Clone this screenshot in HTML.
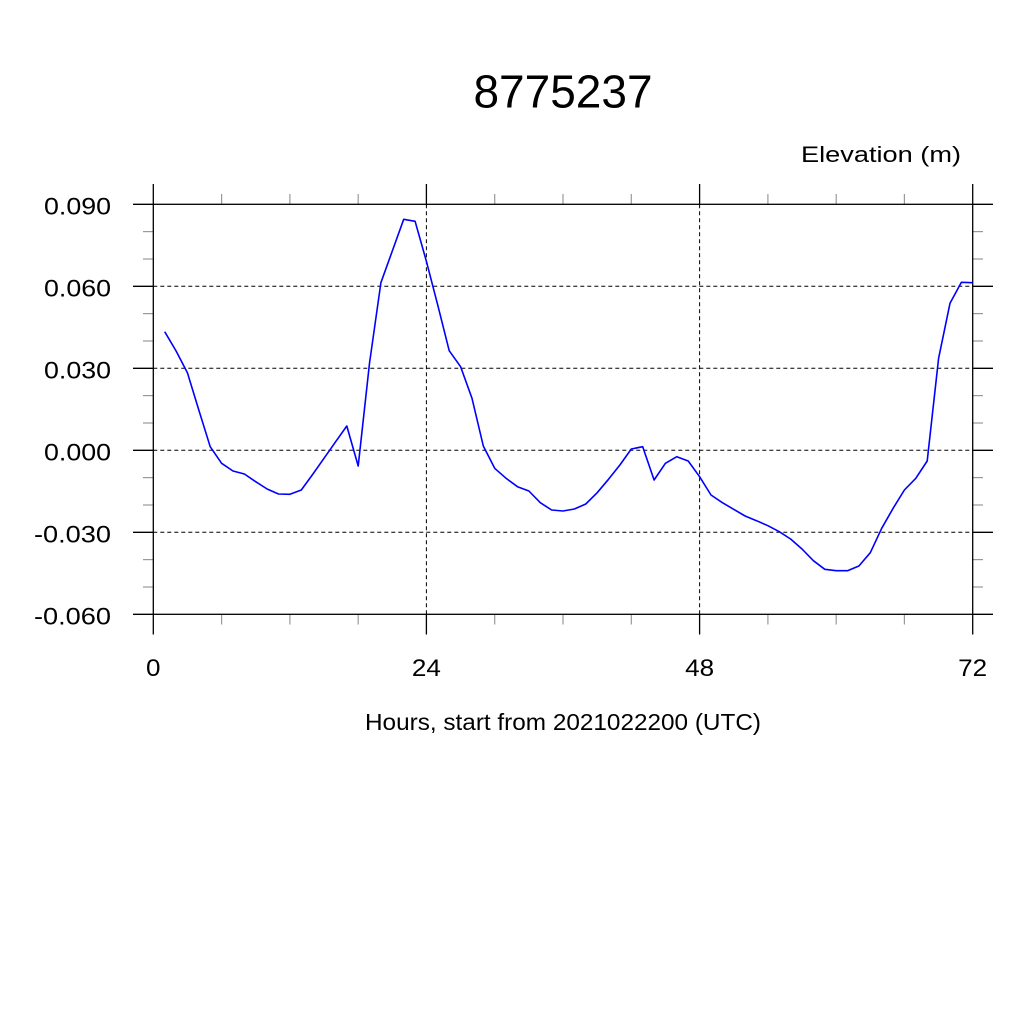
<!DOCTYPE html>
<html>
<head>
<meta charset="utf-8">
<style>
html,body{margin:0;padding:0;background:#fff;}
svg{display:block;}
text{font-family:"Liberation Sans",sans-serif;fill:#000;}
</style>
</head>
<body>
<svg width="1024" height="1024" viewBox="0 0 1024 1024" xmlns="http://www.w3.org/2000/svg">
<rect width="1024" height="1024" fill="#fff"/>

<!-- Title -->
<text x="563" y="107.5" font-size="46" text-anchor="middle">8775237</text>
<text x="961" y="162" font-size="22" text-anchor="end" textLength="160" lengthAdjust="spacingAndGlyphs">Elevation (m)</text>

<!-- gridlines -->
<g stroke="#000" stroke-width="1" stroke-dasharray="4,3" fill="none">
  <line x1="153.3" y1="286.3" x2="972.7" y2="286.3"/>
  <line x1="153.3" y1="368.3" x2="972.7" y2="368.3"/>
  <line x1="153.3" y1="450.3" x2="972.7" y2="450.3"/>
  <line x1="153.3" y1="532.3" x2="972.7" y2="532.3"/>
  <line x1="426.4" y1="204.3" x2="426.4" y2="614.3"/>
  <line x1="699.6" y1="204.3" x2="699.6" y2="614.3"/>
</g>

<!-- minor ticks -->
<g stroke="#999" stroke-width="1.2">
  <line x1="143" y1="231.6" x2="153.3" y2="231.6"/><line x1="972.7" y1="231.6" x2="983" y2="231.6"/>
  <line x1="143" y1="259.0" x2="153.3" y2="259.0"/><line x1="972.7" y1="259.0" x2="983" y2="259.0"/>
  <line x1="143" y1="313.6" x2="153.3" y2="313.6"/><line x1="972.7" y1="313.6" x2="983" y2="313.6"/>
  <line x1="143" y1="341.0" x2="153.3" y2="341.0"/><line x1="972.7" y1="341.0" x2="983" y2="341.0"/>
  <line x1="143" y1="395.6" x2="153.3" y2="395.6"/><line x1="972.7" y1="395.6" x2="983" y2="395.6"/>
  <line x1="143" y1="423.0" x2="153.3" y2="423.0"/><line x1="972.7" y1="423.0" x2="983" y2="423.0"/>
  <line x1="143" y1="477.6" x2="153.3" y2="477.6"/><line x1="972.7" y1="477.6" x2="983" y2="477.6"/>
  <line x1="143" y1="505.0" x2="153.3" y2="505.0"/><line x1="972.7" y1="505.0" x2="983" y2="505.0"/>
  <line x1="143" y1="559.6" x2="153.3" y2="559.6"/><line x1="972.7" y1="559.6" x2="983" y2="559.6"/>
  <line x1="143" y1="587.0" x2="153.3" y2="587.0"/><line x1="972.7" y1="587.0" x2="983" y2="587.0"/>
  <line x1="221.6" y1="194" x2="221.6" y2="204.3"/><line x1="221.6" y1="614.3" x2="221.6" y2="624.5"/>
  <line x1="289.9" y1="194" x2="289.9" y2="204.3"/><line x1="289.9" y1="614.3" x2="289.9" y2="624.5"/>
  <line x1="358.2" y1="194" x2="358.2" y2="204.3"/><line x1="358.2" y1="614.3" x2="358.2" y2="624.5"/>
  <line x1="494.7" y1="194" x2="494.7" y2="204.3"/><line x1="494.7" y1="614.3" x2="494.7" y2="624.5"/>
  <line x1="563.0" y1="194" x2="563.0" y2="204.3"/><line x1="563.0" y1="614.3" x2="563.0" y2="624.5"/>
  <line x1="631.3" y1="194" x2="631.3" y2="204.3"/><line x1="631.3" y1="614.3" x2="631.3" y2="624.5"/>
  <line x1="767.9" y1="194" x2="767.9" y2="204.3"/><line x1="767.9" y1="614.3" x2="767.9" y2="624.5"/>
  <line x1="836.2" y1="194" x2="836.2" y2="204.3"/><line x1="836.2" y1="614.3" x2="836.2" y2="624.5"/>
  <line x1="904.4" y1="194" x2="904.4" y2="204.3"/><line x1="904.4" y1="614.3" x2="904.4" y2="624.5"/>
</g>

<!-- major ticks -->
<g stroke="#000" stroke-width="1.3">
  <line x1="133" y1="204.3" x2="153.3" y2="204.3"/><line x1="972.7" y1="204.3" x2="993" y2="204.3"/>
  <line x1="133" y1="286.3" x2="153.3" y2="286.3"/><line x1="972.7" y1="286.3" x2="993" y2="286.3"/>
  <line x1="133" y1="368.3" x2="153.3" y2="368.3"/><line x1="972.7" y1="368.3" x2="993" y2="368.3"/>
  <line x1="133" y1="450.3" x2="153.3" y2="450.3"/><line x1="972.7" y1="450.3" x2="993" y2="450.3"/>
  <line x1="133" y1="532.3" x2="153.3" y2="532.3"/><line x1="972.7" y1="532.3" x2="993" y2="532.3"/>
  <line x1="133" y1="614.3" x2="153.3" y2="614.3"/><line x1="972.7" y1="614.3" x2="993" y2="614.3"/>
  <line x1="153.3" y1="184" x2="153.3" y2="204.3"/><line x1="153.3" y1="614.3" x2="153.3" y2="634.5"/>
  <line x1="426.4" y1="184" x2="426.4" y2="204.3"/><line x1="426.4" y1="614.3" x2="426.4" y2="634.5"/>
  <line x1="699.6" y1="184" x2="699.6" y2="204.3"/><line x1="699.6" y1="614.3" x2="699.6" y2="634.5"/>
  <line x1="972.7" y1="184" x2="972.7" y2="204.3"/><line x1="972.7" y1="614.3" x2="972.7" y2="634.5"/>
</g>

<!-- frame -->
<rect x="153.3" y="204.3" width="819.4" height="410" fill="none" stroke="#000" stroke-width="1.3"/>

<!-- data -->
<polyline fill="none" stroke="#0000ff" stroke-width="1.6" stroke-linejoin="round" points="
164.7,331.7 176.1,351 187.4,372.7 198.8,410 210.2,446.7 221.6,463.3 233.0,471 244.4,474 255.7,481.7 267.1,489
278.5,494 289.9,494.3 301.3,490 312.6,474.5 324.0,458.3 335.4,442.1 346.8,426 358.2,466 369.5,363.3 380.9,282.7
392.3,251 403.7,219.3 415.1,221.3 426.4,261.3 437.8,305.3 449.2,350.7 460.6,366.7 472.0,398.3 483.3,446 494.7,468.3
506.1,478.3 517.5,486.7 528.9,491 540.3,502.7 551.6,510 563.0,511 574.4,509 585.8,504 597.2,492.7 608.5,479.3
619.9,465 631.3,449 642.7,446.7 654.1,480 665.4,463.3 676.8,456.7 688.2,461 699.6,476.7 711.0,495 722.4,502.7
733.7,509.3 745.1,516 756.5,520.7 767.9,525.7 779.3,531.7 790.6,539 802.0,549 813.4,560.7 824.8,569.3 836.2,570.7
847.5,570.7 858.9,566 870.3,552.7 881.7,528.3 893.1,508.3 904.4,490 915.8,478.3 927.2,461 938.6,358.3 950.0,303.3
961.4,282.3 972.7,282.7"/>

<!-- y tick labels -->
<g font-size="24" text-anchor="end">
  <text x="111" y="214.3" textLength="67" lengthAdjust="spacingAndGlyphs">0.090</text>
  <text x="111" y="296.3" textLength="67" lengthAdjust="spacingAndGlyphs">0.060</text>
  <text x="111" y="378.3" textLength="67" lengthAdjust="spacingAndGlyphs">0.030</text>
  <text x="111" y="460.3" textLength="67" lengthAdjust="spacingAndGlyphs">0.000</text>
  <text x="111" y="542.3" textLength="77" lengthAdjust="spacingAndGlyphs">-0.030</text>
  <text x="111" y="624.3" textLength="77" lengthAdjust="spacingAndGlyphs">-0.060</text>
</g>

<!-- x tick labels -->
<g font-size="24" text-anchor="middle">
  <text x="153.3" y="676" textLength="14.5" lengthAdjust="spacingAndGlyphs">0</text>
  <text x="426.4" y="676" textLength="29" lengthAdjust="spacingAndGlyphs">24</text>
  <text x="699.6" y="676" textLength="29" lengthAdjust="spacingAndGlyphs">48</text>
  <text x="972.7" y="676" textLength="29" lengthAdjust="spacingAndGlyphs">72</text>
</g>

<!-- x axis label -->
<text x="563" y="730" font-size="23" text-anchor="middle" textLength="396" lengthAdjust="spacingAndGlyphs">Hours, start from 2021022200 (UTC)</text>
</svg>
</body>
</html>
